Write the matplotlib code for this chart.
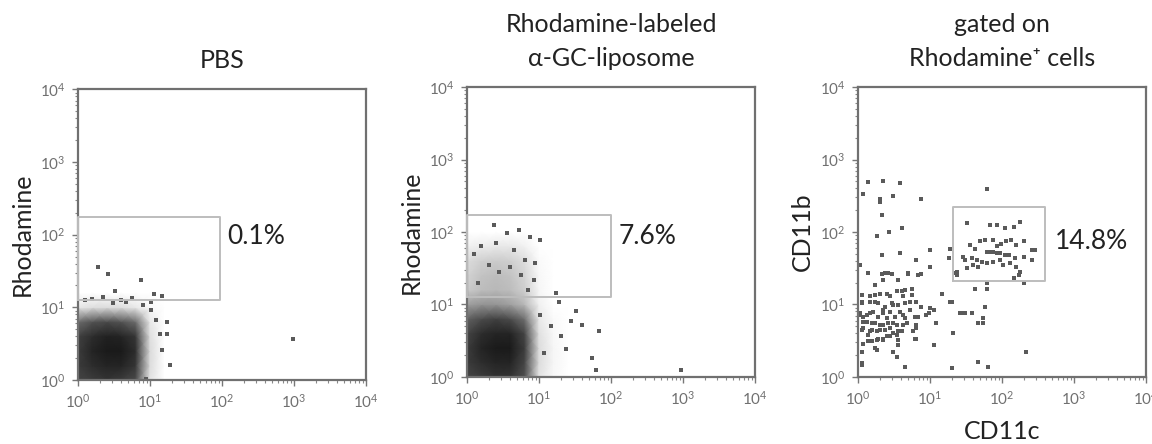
import matplotlib
matplotlib.use("Agg")
import matplotlib.pyplot as plt
from matplotlib.colors import LinearSegmentedColormap
from matplotlib.ticker import LogLocator, NullFormatter
import numpy as np

plt.rcParams['font.family'] = ['Lato', 'DejaVu Sans']
plt.rcParams['mathtext.fontset'] = 'stix'

titles = ["PBS", "Rhodamine-labeled\n\u03b1-GC-liposome", "gated on\nRhodamine\u207a cells"]
ylabels = ["Rhodamine", "Rhodamine", "CD11b"]
xlabels = ["", "", "CD11c"]
percents = ["0.1%", "7.6%", "14.8%"]
# gates: x0, x1, y0, y1
gates = [[1, 93, 12.6, 174], [1, 100, 12.7, 174], [21, 400, 21, 224]]

# event density (0..1 darkness), vertices every 0.2 decade starting at 10^0
grid_step = 0.2
dens_pbs = [
    [0.78, 0.82, 0.85, 0.82, 0.76, 0.12, 0.00, 0.00],
    [0.82, 0.88, 0.92, 0.92, 0.84, 0.15, 0.00, 0.00],
    [0.82, 0.92, 0.96, 0.96, 0.88, 0.16, 0.00, 0.00],
    [0.80, 0.88, 0.93, 0.92, 0.84, 0.14, 0.00, 0.00],
    [0.62, 0.72, 0.76, 0.72, 0.62, 0.10, 0.00, 0.00],
    [0.10, 0.14, 0.15, 0.14, 0.10, 0.03, 0.00, 0.00],
    [0.00, 0.00, 0.00, 0.00, 0.00, 0.00, 0.00, 0.00],
]
dens_lipo = [
    [0.78, 0.82, 0.86, 0.85, 0.74, 0.12, 0.03, 0.00, 0.00],
    [0.82, 0.88, 0.92, 0.92, 0.78, 0.15, 0.04, 0.00, 0.00],
    [0.82, 0.92, 0.96, 0.96, 0.82, 0.15, 0.04, 0.00, 0.00],
    [0.78, 0.88, 0.92, 0.92, 0.78, 0.13, 0.03, 0.00, 0.00],
    [0.66, 0.75, 0.80, 0.75, 0.60, 0.10, 0.02, 0.00, 0.00],
    [0.40, 0.45, 0.45, 0.40, 0.30, 0.06, 0.00, 0.00, 0.00],
    [0.22, 0.28, 0.30, 0.28, 0.20, 0.04, 0.00, 0.00, 0.00],
    [0.18, 0.25, 0.28, 0.25, 0.18, 0.03, 0.00, 0.00, 0.00],
    [0.15, 0.20, 0.22, 0.20, 0.14, 0.02, 0.00, 0.00, 0.00],
    [0.06, 0.08, 0.10, 0.10, 0.06, 0.00, 0.00, 0.00, 0.00],
    [0.00, 0.00, 0.00, 0.00, 0.00, 0.00, 0.00, 0.00, 0.00],
]

# single events outside the dense cores, in decades (log10)
pbs_lx = [0.88, 0.42, 0.28, 0.51, 1.05, 1.16, 1.02, 1.23, 1.23, 1.14, 1.16, 1.28,
          2.99, 1.09, 1.02, 0.95, 0.20, 0.60, 0.75, 0.35, 0.10, 0.48, 0.66, 0.90]
pbs_ly = [1.37, 1.46, 1.56, 1.23, 1.19, 1.15, 1.08, 0.80, 0.64, 0.64, 0.41, 0.21,
          0.56, 0.83, 0.96, 0.02, 1.12, 1.10, 1.13, 1.14, 1.10, 1.06, 1.08, 1.03]
lipo_lx = [0.72, 0.88, 1.02, 0.37, 1.51, 1.44, 1.60, 1.83, 1.30, 1.74, 1.79, 2.97,
           1.28, 1.16, 1.37, 1.07, 1.02, 0.95, 0.93, 1.23, 0.55, 0.20, 0.65, 0.80,
           0.10, 0.30, 0.45, 0.60, 0.75, 0.15, 0.40, 0.85]
lipo_ly = [2.03, 1.93, 1.89, 2.10, 0.91, 0.77, 0.72, 0.63, 0.56, 0.26, 0.10, 0.10,
           1.04, 0.70, 0.38, 0.33, 0.86, 1.57, 1.34, 1.16, 1.98, 1.80, 1.75, 1.62,
           1.70, 1.55, 1.45, 1.52, 1.40, 1.30, 1.85, 1.20]
gated_lx = [0.14, 0.35, 0.58, 0.31, 0.31, 0.88, 0.49, 0.07, 0.34, 0.43, 0.27, 0.61,
            0.34, 0.58, 0.81, 1.00, 1.28, 1.26, 1.00, 0.03, 0.14, 0.38, 0.47, 0.70,
            0.88, 0.56, 0.35, 0.24, 0.54, 0.61, 0.75, 0.63, 0.44, 0.31, 0.17, 0.05,
            0.05, 0.24, 0.38, 0.49, 0.65, 0.81, 0.72, 0.58, 0.44, 0.35, 0.17, 0.07,
            0.03, 0.28, 0.40, 0.51, 0.65, 0.84, 0.98, 1.00, 0.12, 0.24, 0.35, 0.49,
            0.63, 0.07, 0.19, 0.31, 0.44, 0.56, 0.81, 0.14, 0.28, 0.40, 0.54, 0.81,
            0.07, 0.35, 0.20, 1.05, 1.09, 1.16, 1.28, 1.42, 1.49, 1.58, 1.76, 1.74,
            1.74, 1.67, 1.62, 1.79, 1.79, 0.05, 0.05, 0.65, 1.67, 1.81, 1.32, 2.34,
            1.79, 0.26, 0.56, 0.49,
            1.83, 1.93, 2.04, 2.16, 2.25, 1.51, 1.56, 1.62, 1.69, 1.76, 1.88, 1.93,
            1.99, 2.06, 2.13, 2.20, 2.30, 2.41, 2.46, 1.79, 1.83, 1.88, 1.93, 1.97,
            2.04, 2.10, 2.18, 2.30, 2.41, 1.46, 1.49, 1.58, 1.65, 1.72, 1.60, 1.67,
            1.79, 1.88, 1.97, 2.02, 2.11, 2.20, 2.25, 1.51, 1.37, 1.37, 2.16, 2.30,
            2.23,
            0.33, 0.42, 0.70, 0.84, 0.24, 0.40, 0.54, 0.65, 0.75, 0.05, 0.17, 0.28,
            0.47, 0.56, 0.72, 0.88, 1.05, 0.03, 0.12, 0.21, 0.35, 0.51, 0.63, 0.79,
            0.95, 0.07, 0.19, 0.31, 0.42, 0.54, 0.68, 0.81, 0.05, 0.17, 0.26, 0.38,
            0.49, 0.61, 0.77, 0.14, 0.26, 0.35, 0.44, 0.56, 0.79, 0.05, 0.24, 0.54,
            0.65, 0.05, 1.30, 1.44, 1.30, 1.35]
gated_ly = [2.69, 2.71, 2.68, 2.45, 2.42, 2.45, 2.49, 2.53, 2.23, 2.00, 1.94, 2.05,
            1.68, 1.71, 1.61, 1.75, 1.77, 1.64, 1.52, 1.54, 1.43, 1.43, 1.42, 1.43,
            1.42, 1.34, 1.34, 1.27, 1.19, 1.19, 1.21, 1.11, 1.11, 1.15, 1.11, 1.13,
            1.04, 1.04, 0.97, 0.99, 1.02, 1.04, 0.92, 0.90, 0.90, 0.92, 0.88, 0.83,
            0.86, 0.83, 0.81, 0.83, 0.81, 0.83, 0.88, 0.95, 0.76, 0.74, 0.72, 0.74,
            0.72, 0.67, 0.65, 0.65, 0.67, 0.63, 0.67, 0.58, 0.53, 0.56, 0.58, 0.53,
            0.46, 0.51, 0.49, 0.44, 0.74, 1.15, 1.04, 0.88, 0.88, 0.88, 0.97, 0.81,
            0.74, 0.74, 1.22, 1.22, 1.29, 0.35, 0.19, 0.14, 0.21, 0.14, 0.60, 0.35,
            2.60, 0.37, 0.44, 0.35,
            2.10, 2.10, 2.05, 2.07, 2.14, 2.12, 1.82, 1.77, 1.87, 1.89, 1.89, 1.80,
            1.84, 1.87, 1.89, 1.82, 1.87, 1.75, 1.75, 1.73, 1.73, 1.73, 1.71, 1.71,
            1.68, 1.68, 1.64, 1.66, 1.61, 1.66, 1.61, 1.64, 1.61, 1.59, 1.54, 1.52,
            1.57, 1.59, 1.61, 1.54, 1.57, 1.52, 1.45, 1.50, 1.45, 1.41, 1.36, 1.29,
            1.41,
            1.42, 1.43, 1.42, 1.41, 1.13, 1.15, 1.18, 1.20, 1.13, 1.02, 1.04, 1.02,
            1.02, 0.99, 1.04, 0.97, 0.92, 0.88, 0.86, 0.90, 0.88, 0.83, 0.86, 0.83,
            0.86, 0.76, 0.74, 0.72, 0.74, 0.72, 0.74, 0.72, 0.65, 0.63, 0.63, 0.65,
            0.60, 0.63, 0.63, 0.49, 0.51, 0.53, 0.56, 0.51, 0.53, 0.35, 0.40, 0.28,
            0.14, 0.17, 0.12, 0.88, 1.04, 1.43]

densities = [dens_pbs, dens_lipo, None]
events = [(pbs_lx, pbs_ly), (lipo_lx, lipo_ly), (gated_lx, gated_ly)]
axes_rect = [[0.0677, 0.144, 0.25, 0.655],
             [0.4054, 0.151, 0.25, 0.653],
             [0.7448, 0.151, 0.25, 0.653]]
pct_pos = [(120, 93), (129, 87), (550, 74)]

cmap = LinearSegmentedColormap.from_list("fc", ["white", "#111111"])

fig = plt.figure(figsize=(11.52, 4.44), dpi=100)
for i in range(3):
    ax = fig.add_axes(axes_rect[i])
    ax.set_xscale("log")
    ax.set_yscale("log")
    ax.set_xlim(1, 1e4)
    ax.set_ylim(1, 1e4)

    d = densities[i]
    if d is not None:
        d = np.array(d)
        gx = 10 ** (np.arange(d.shape[1]) * grid_step)
        gy = 10 ** (np.arange(d.shape[0]) * grid_step)
        X, Y = np.meshgrid(gx, gy)
        ax.pcolormesh(X, Y, d, cmap=cmap, vmin=0, vmax=1, shading="gouraud", zorder=1)

    lx, ly = events[i]
    ax.scatter(10 ** np.array(lx), 10 ** np.array(ly), s=5, marker="s",
               color="#5a5a5a", linewidths=0, zorder=2)

    x0, x1, y0, y1 = gates[i]
    ax.plot([x0, x1, x1, x0, x0], [y0, y0, y1, y1, y0], color="#bdbdbd", lw=1.4, zorder=3,
            clip_on=False)
    ax.text(pct_pos[i][0], pct_pos[i][1], percents[i], fontsize=19, color="#222222",
            va="center", ha="left")

    ax.set_title(titles[i], fontsize=18, color="#222222", pad=15, linespacing=1.6)
    ax.set_ylabel(ylabels[i], fontsize=18, color="#222222", labelpad=4)
    if xlabels[i]:
        ax.set_xlabel(xlabels[i], fontsize=18, color="#222222", labelpad=9)

    for axis in (ax.xaxis, ax.yaxis):
        axis.set_major_locator(LogLocator(base=10, numticks=10))
        axis.set_minor_locator(LogLocator(base=10, subs=np.arange(2, 10), numticks=10))
        axis.set_minor_formatter(NullFormatter())
    ax.tick_params(which="major", direction="out", length=4, width=1, color="#777777",
                   labelsize=11, labelcolor="#707070", pad=5)
    ax.tick_params(which="minor", direction="out", length=2, width=0.8, color="#888888")
    for sp in ax.spines.values():
        sp.set_color("#707070")
        sp.set_linewidth(1.6)

fig.savefig("out.png", dpi=100)
